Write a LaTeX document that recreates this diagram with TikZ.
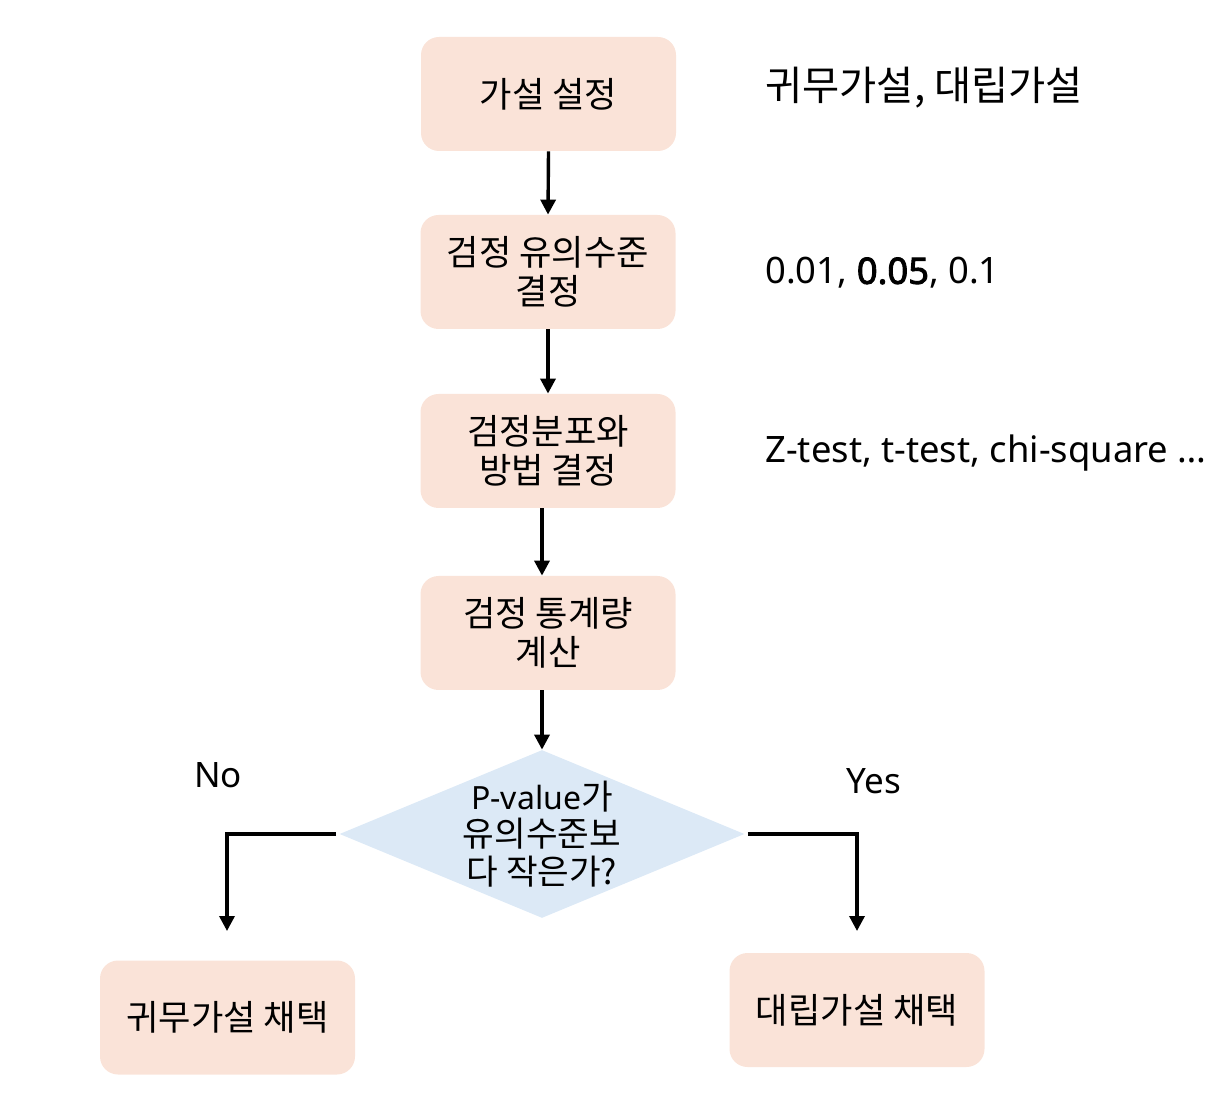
\documentclass[tikz,border=0pt]{standalone}
\usepackage{fontspec}
\setmainfont{Noto Sans CJK KR}
\newfontfamily\latinfont{Noto Sans}[AutoFakeBold=2.5]
\usetikzlibrary{shapes.geometric,arrows.meta}
\definecolor{peach}{HTML}{FAE3D8}
\definecolor{dblue}{HTML}{DCE9F6}
\tikzset{
  box/.style={fill=peach, rounded corners=9pt, minimum width=127.5pt, minimum height=57pt,
    align=center, inner sep=0pt, font=\fontsize{17.6}{19.5}\selectfont},
  dec/.style={diamond, fill=dblue, minimum width=202.5pt, minimum height=84pt, inner sep=0pt},
  dectext/.style={align=center, inner sep=0pt, font=\fontsize{17.2}{18.75}\selectfont},
  conn/.style={line width=1.7pt, -{Triangle[length=7.5pt,width=7.5pt]}},
  notek/.style={anchor=west, inner sep=0pt, font=\fontsize{20.2}{24}\selectfont},
  notel/.style={anchor=west, inner sep=0pt, font=\latinfont\fontsize{18.2}{22}\selectfont},
  yn/.style={inner sep=0pt, font=\latinfont\fontsize{17.5}{21}\selectfont},
}
\begin{document}
\begin{tikzpicture}[x=0.5pt,y=-0.5pt]
\useasboundingbox (0,0) rectangle (1222,1096);
\node[box] (b1) at (548.5,94) {가설 설정};
\node[box] (b2) at (548,272) {검정 유의수준\\결정};
\node[box] (b3) at (548,451) {검정분포와\\방법 결정};
\node[box] (b4) at (548,633) {검정 통계량\\계산};
\node[dec] (d) at (542,834) {};
\node[dectext] (dt) at (d.center) {{\latinfont\fontsize{16}{18.75}\selectfont P-value}가\\유의수준보\\다 작은가?};
\node[box] (bl) at (227.5,1017.5) {귀무가설 채택};
\node[box] (br) at (857,1010) {대립가설 채택};
\coordinate (nl) at (227,931);
\coordinate (yr) at (857,931);
\draw[conn] (b1.south) -- (b2.north);
\draw[conn] (b2.south) -- (b3.north);
\draw[conn] (b3.south -| d.north) -- (b4.north -| d.north);
\draw[conn] (b4.south -| d.north) -- (d.north);
\draw[conn] ([xshift=-1.5pt]d.west) -| (nl);
\draw[conn] ([xshift=1.5pt]d.east) -| (yr);
\node[yn] (no) at (218,775) {No};
\node[yn] (yes) at (874,781) {Yes};
\node[notek] (n1) at (765,88) {귀무가설, 대립가설};
\node[notel] (n2) at (765,273) {0.01, \textbf{0.05}, 0.1};
\node[notel] (n3) at (765,453) {Z-test, t-test, chi-square …};
\end{tikzpicture}
\end{document}
